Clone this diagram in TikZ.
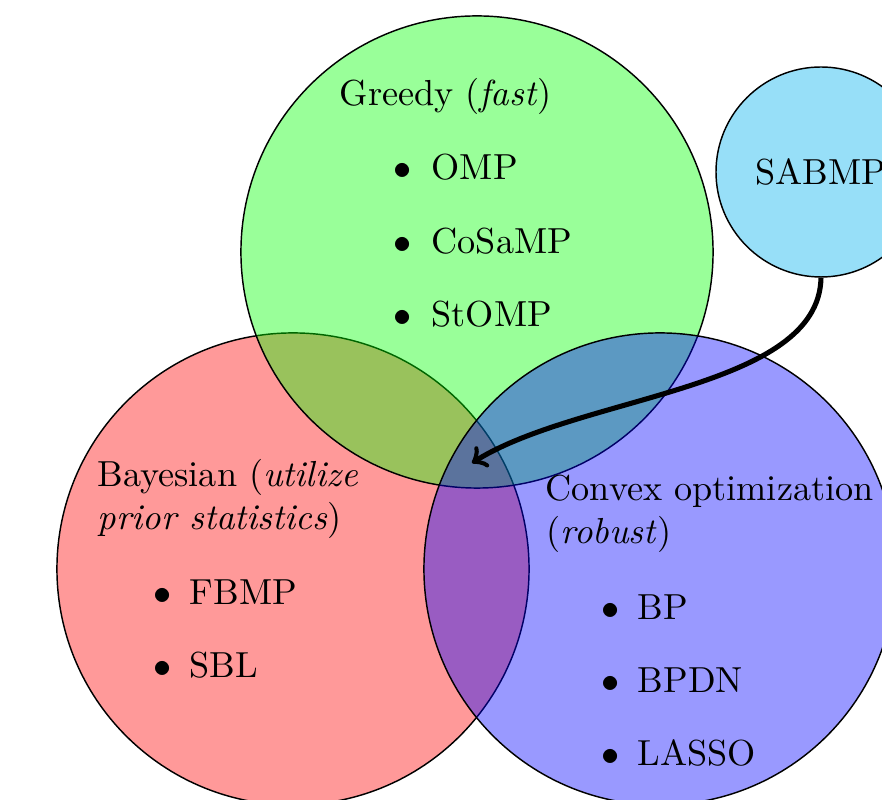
\documentclass[tikz,border=0pt]{standalone}
\definecolor{sabfill}{RGB}{151,223,248}
\begin{document}
\begin{tikzpicture}[x=0.2762pt,y=-0.2762pt,
  setc/.style={circle, draw=black, line width=0.4pt, fill opacity=0.4, minimum size=130.4pt, inner sep=0pt},
  lbl/.style={anchor=base west, inner sep=0pt},
  bul/.style={anchor=base west, inner sep=0pt}]
\useasboundingbox (0,0) rectangle (882,800);
\clip (0,0) rectangle (882,800);
% sets
\node (bay) [setc, fill=red] at (293,569) {};
\node (gre) [setc, fill=green] at (477,252) {};
\node (cvx) [setc, fill=blue] at (660,569) {};
\node (sab) [circle, draw=black, line width=0.4pt, fill=sabfill, minimum size=58pt, inner sep=0pt] at (821,172) {SABMP};
% greedy
\node (gt) [lbl] at (339,106) {Greedy (\emph{fast})};
\node (gb1) [bul] at (393,180) {$\bullet$};
\node (g1) [lbl] at (431,180) {OMP};
\node (gb2) [bul] at (393,254) {$\bullet$};
\node (g2) [lbl] at (431,254) {CoSaMP};
\node (gb3) [bul] at (393,327) {$\bullet$};
\node (g3) [lbl] at (431,327) {StOMP};
% bayesian
\node (bt1) [lbl] at (97,487) {Bayesian (\emph{utilize}};
\node (bt2) [lbl] at (97,530) {\emph{prior statistics})};
\node (bb1) [bul] at (153,605) {$\bullet$};
\node (b1) [lbl] at (189,605) {FBMP};
\node (bb2) [bul] at (153,678) {$\bullet$};
\node (b2) [lbl] at (189,678) {SBL};
% convex
\node (ct1) [lbl] at (545,501) {Convex optimization};
\node (ct2) [lbl] at (546,544) {(\emph{robust})};
\node (cb1) [bul] at (601,620) {$\bullet$};
\node (c1) [lbl] at (637,620) {BP};
\node (cb2) [bul] at (601,693) {$\bullet$};
\node (c2) [lbl] at (637,693) {BPDN};
\node (cb3) [bul] at (601,766) {$\bullet$};
\node (c3) [lbl] at (637,766) {LASSO};
% arrow
\coordinate (tgt) at (472,463);
\draw[line width=1.4pt, ->] (sab.south) .. controls (819,390) and (580,395) .. (tgt);
\end{tikzpicture}
\end{document}
